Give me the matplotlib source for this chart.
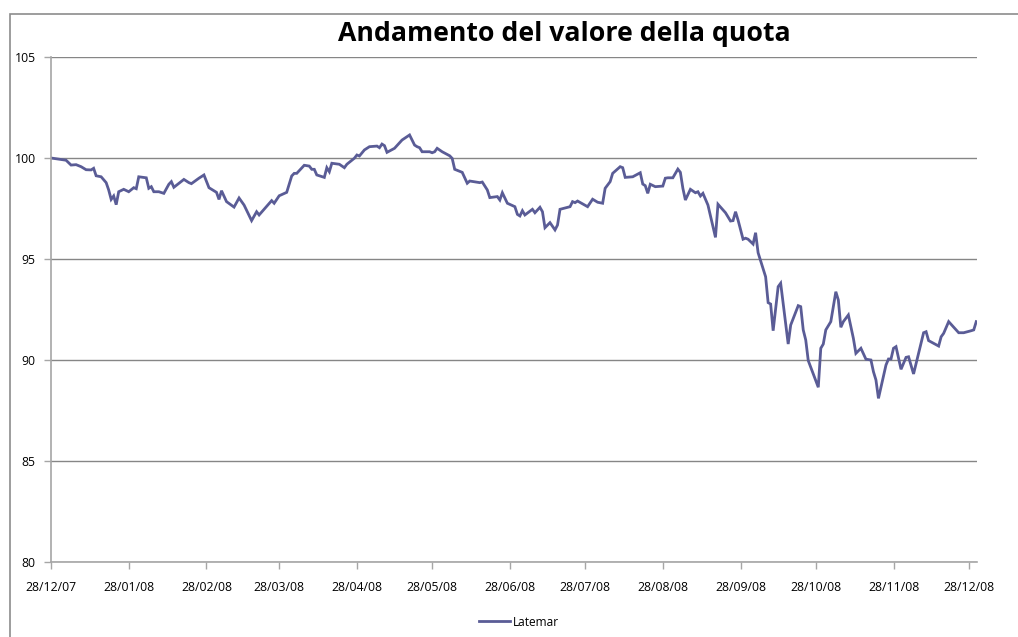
import numpy as np
import pandas as pd
import matplotlib
matplotlib.use('Agg')
import matplotlib.pyplot as plt
import matplotlib.dates as mdates
from matplotlib.patches import Rectangle

plt.rcParams['font.family'] = ['Open Sans', 'DejaVu Sans']

# data: days after 28/12/2007 and fund quota value
start = pd.Timestamp('2007-12-28')
day_offset = [
    0, 6, 8, 10, 12, 14, 16, 17, 18, 20, 22, 23, 24, 25, 26, 27, 29, 31, 33, 34,
    35, 38, 39, 40, 41, 43, 45, 47, 48, 49, 53, 55, 56, 59, 61, 63, 66, 67, 68, 70,
    73, 75, 77, 80, 82, 83, 88, 89, 91, 94, 96, 97, 98, 101, 103, 104, 105, 106, 109, 110,
    111, 112, 115, 117, 118, 121, 122, 123, 125, 127, 130, 131, 132, 133, 134, 137, 140, 143, 145, 146,
    147, 148, 151, 152, 153, 154, 156, 159, 160, 161, 164, 166, 167, 171, 172, 174, 175, 178, 179, 180,
    182, 185, 186, 187, 188, 189, 192, 193, 195, 196, 197, 199, 201, 202, 203, 207, 208, 209, 210, 214,
    216, 218, 220, 221, 223, 224, 227, 228, 229, 232, 235, 236, 237, 238, 239, 241, 244, 245, 246, 248,
    250, 251, 252, 253, 255, 257, 258, 259, 260, 262, 265, 266, 269, 271, 272, 273, 274, 276, 277, 278,
    280, 281, 282, 285, 286, 287, 288, 290, 291, 294, 295, 298, 299, 300, 301, 302, 306, 307, 308, 309,
    311, 313, 314, 315, 316, 318, 320, 321, 323, 325, 327, 328, 329, 330, 333, 334, 335, 336, 337, 339,
    341, 342, 344, 348, 349, 350, 354, 355, 356, 358, 362, 364, 367, 368, 369,
]
latemar = [
    100.00, 99.89, 99.65, 99.67, 99.57, 99.42, 99.41, 99.49, 99.12, 99.07, 98.78, 98.42, 97.95, 98.12, 97.69, 98.33, 98.45, 98.33, 98.53, 98.48,
    99.07, 99.02, 98.50, 98.58, 98.33, 98.33, 98.25, 98.70, 98.83, 98.55, 98.94, 98.78, 98.73, 99.00, 99.16, 98.53, 98.30, 97.95, 98.38, 97.84,
    97.57, 98.02, 97.67, 96.90, 97.34, 97.18, 97.89, 97.76, 98.13, 98.30, 99.11, 99.24, 99.24, 99.64, 99.60, 99.44, 99.44, 99.16, 99.04, 99.52,
    99.32, 99.74, 99.69, 99.52, 99.69, 99.99, 100.15, 100.10, 100.40, 100.56, 100.59, 100.51, 100.69, 100.61, 100.28, 100.48, 100.89, 101.14, 100.64, 100.56,
    100.51, 100.31, 100.31, 100.26, 100.31, 100.48, 100.31, 100.11, 99.98, 99.44, 99.29, 98.75, 98.86, 98.78, 98.81, 98.42, 98.04, 98.09, 97.92, 98.28,
    97.76, 97.59, 97.21, 97.13, 97.39, 97.18, 97.46, 97.29, 97.56, 97.34, 96.55, 96.80, 96.44, 96.68, 97.46, 97.59, 97.84, 97.79, 97.87, 97.59,
    97.96, 97.81, 97.76, 98.50, 98.83, 99.24, 99.57, 99.52, 99.04, 99.07, 99.27, 98.71, 98.63, 98.25, 98.70, 98.58, 98.61, 99.00, 99.02, 99.02,
    99.45, 99.29, 98.50, 97.92, 98.45, 98.28, 98.33, 98.12, 98.25, 97.67, 96.07, 97.71, 97.29, 96.88, 96.90, 97.34, 96.93, 95.98, 96.03, 95.98,
    95.74, 96.30, 95.31, 94.12, 92.84, 92.77, 91.45, 93.63, 93.80, 90.79, 91.73, 92.69, 92.64, 91.49, 90.99, 89.97, 88.65, 90.58, 90.79, 91.49,
    91.90, 93.38, 92.97, 91.62, 91.90, 92.23, 91.07, 90.33, 90.58, 90.04, 90.00, 89.42, 89.01, 88.10, 89.75, 90.05, 90.05, 90.58, 90.66, 89.54,
    90.13, 90.16, 89.31, 91.35, 91.40, 90.96, 90.69, 91.15, 91.32, 91.90, 91.35, 91.35, 91.45, 91.49, 91.90,
]
tick_dates = ['2007-12-28', '2008-01-28', '2008-02-28', '2008-03-28', '2008-04-28', '2008-05-28',
              '2008-06-28', '2008-07-28', '2008-08-28', '2008-09-28', '2008-10-28', '2008-11-28', '2008-12-28']
y_ticks = [80, 85, 90, 95, 100, 105]

dates = start + pd.to_timedelta(day_offset, unit='D')

fig = plt.figure(figsize=(10.18, 6.37), dpi=100, facecolor='white')
ax = fig.add_axes([51 / 1018, 1 - 562 / 637, 926 / 1018, 505 / 637])

# chart frame (cropped on the right and bottom)
fig.patches.append(Rectangle((10 / 1018, -0.05), 1.2, 1 - 14 / 637 + 0.05, transform=fig.transFigure,
                             fill=False, edgecolor='#8c8c8c', linewidth=1.2))

ax.plot(dates, latemar, color='#5a5c96', linewidth=2.0, label='Latemar', solid_joinstyle='miter')

ax.set_ylim(80, 105)
ax.set_xlim(start, start + pd.Timedelta(days=369.3))
ax.set_yticks(y_ticks)
ax.set_xticks(pd.to_datetime(tick_dates))
ax.xaxis.set_major_formatter(mdates.DateFormatter('%d/%m/%y'))
ax.grid(axis='y', color='#868686', linewidth=1)
ax.set_axisbelow(True)
for s in ['top', 'right']:
    ax.spines[s].set_visible(False)
for s in ['left', 'bottom']:
    ax.spines[s].set_color('#a6a6a6')
    ax.spines[s].set_linewidth(1.2)
ax.tick_params(axis='both', colors='#a6a6a6', labelcolor='black', labelsize=8.8, length=5, width=1)
ax.tick_params(axis='x', pad=9)
ax.tick_params(axis='y', pad=6)

fig.text(564 / 1018, 1 - 34 / 637, 'Andamento del valore della quota', ha='center', va='center',
         fontsize=19.2, fontweight='bold')

fig.legend(loc='center', bbox_to_anchor=(519 / 1018, 1 - 622 / 637), frameon=False, fontsize=8.6,
           handlelength=2.6, handletextpad=0.3)

fig.savefig('out.png', dpi=100)
